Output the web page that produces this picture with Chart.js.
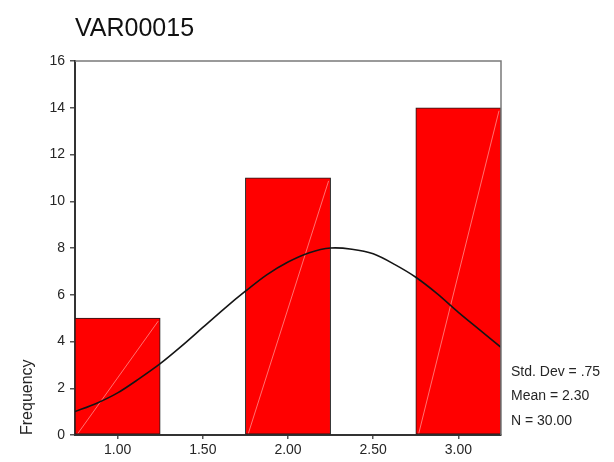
<!DOCTYPE html>
<html>
<head>
<meta charset="utf-8">
<script src="https://cdn.jsdelivr.net/npm/chart.js@4/dist/chart.umd.min.js"></script>
<style>
  html, body { margin: 0; padding: 0; background: #ffffff; }
  #wrap { width: 614px; height: 462px; }
</style>
</head>
<body>
<div id="wrap"><canvas id="hist" width="614" height="462"></canvas></div>
<script>
// Histogram of VAR00015 with fitted normal curve
const chartTitle = 'VAR00015';
const binMidpoints = [1.00, 1.50, 2.00, 2.50, 3.00];
const binCounts = [5, 0, 11, 0, 14];
const xTickValues = [1.00, 1.50, 2.00, 2.50, 3.00];
const yTickValues = [0, 2, 4, 6, 8, 10, 12, 14, 16];
const curveX = [0.75, 0.875, 1.00, 1.125, 1.25, 1.375, 1.50, 1.625, 1.75, 1.875, 2.00,
                2.125, 2.25, 2.375, 2.50, 2.625, 2.75, 2.875, 3.00, 3.125, 3.25];
const curveY = [1.0, 1.35, 1.8, 2.4, 3.05, 3.8, 4.6, 5.4, 6.15, 6.85, 7.4,
                7.8, 8.0, 7.95, 7.75, 7.3, 6.75, 6.05, 5.25, 4.5, 3.75];
const stdDev = 0.75;
const mean = 2.30;
const nCases = 30;

const FONT = "'Liberation Sans', Arial, Helvetica, sans-serif";
const TEXT = '#262626';
const BAR_DATASET = 1;

const statLines = [
  'Std. Dev = ' + stdDev.toFixed(2).replace(/^0/, ''),
  'Mean = ' + mean.toFixed(2),
  'N = ' + nCases.toFixed(2)
];

// Title, stat box, frame and the light diagonal streak in each bar
const decorations = {
  id: 'decorations',
  afterDatasetDraw(chart, args) {
    if (args.index !== BAR_DATASET) return;
    const ctx = chart.ctx;
    ctx.save();
    ctx.strokeStyle = 'rgba(255,150,150,0.75)';
    ctx.lineWidth = 1;
    args.meta.data.forEach((bar, i) => {
      if (!binCounts[i]) return;
      const p = bar.getProps(['x', 'y', 'base', 'width'], true);
      ctx.beginPath();
      ctx.moveTo(p.x - p.width / 2 + 3, p.base - 1);
      ctx.lineTo(p.x + p.width / 2 - 2, p.y + 3);
      ctx.stroke();
    });
    ctx.restore();
  },
  afterDraw(chart) {
    const ctx = chart.ctx;
    const a = chart.chartArea;
    ctx.save();
    // top and right frame
    ctx.strokeStyle = '#7a7a7a';
    ctx.lineWidth = 1.5;
    ctx.beginPath();
    ctx.moveTo(a.left, a.top);
    ctx.lineTo(a.right, a.top);
    ctx.lineTo(a.right, a.bottom);
    ctx.stroke();
    // title
    ctx.fillStyle = '#111111';
    ctx.font = '25px ' + FONT;
    ctx.textAlign = 'left';
    ctx.textBaseline = 'alphabetic';
    ctx.fillText(chartTitle, a.left, 36);
    // statistics
    ctx.fillStyle = TEXT;
    ctx.font = '14px ' + FONT;
    ctx.textBaseline = 'middle';
    statLines.forEach((s, i) => {
      ctx.fillText(s, a.right + 10, 372 + i * 24.5);
    });
    ctx.restore();
  }
};

new Chart(document.getElementById('hist'), {
  type: 'bar',
  data: {
    datasets: [
      {
        type: 'line',
        data: curveX.map((x, i) => ({ x: x, y: curveY[i] })),
        borderColor: '#151515',
        borderWidth: 1.6,
        pointRadius: 0,
        tension: 0.3,
        fill: false,
        order: 0
      },
      {
        type: 'bar',
        data: binMidpoints.map((x, i) => ({ x: x, y: binCounts[i] })),
        backgroundColor: '#ff0000',
        borderColor: '#1a1a1a',
        borderWidth: 1,
        borderSkipped: false,
        barPercentage: 1,
        categoryPercentage: 1,
        order: 1
      }
    ]
  },
  options: {
    responsive: false,
    animation: false,
    devicePixelRatio: 1,
    layout: { padding: { top: 61, right: 113, left: 0, bottom: 0 } },
    plugins: {
      legend: { display: false },
      tooltip: { enabled: false },
      title: { display: false }
    },
    scales: {
      x: {
        type: 'linear',
        min: 0.75,
        max: 3.25,
        offset: false,
        afterBuildTicks(scale) {
          scale.ticks = xTickValues.map(v => ({ value: v }));
        },
        afterFit(scale) { scale.height = 27; },
        ticks: {
          color: TEXT,
          font: { family: FONT, size: 14 },
          padding: 3,
          maxRotation: 0,
          callback: v => Number(v).toFixed(2)
        },
        grid: {
          display: true,
          offset: false,
          drawOnChartArea: false,
          drawTicks: true,
          tickLength: 4,
          color: '#555555',
          lineWidth: 1.5
        },
        border: { display: true, color: '#333333', width: 2 }
      },
      y: {
        type: 'linear',
        min: 0,
        max: 16,
        afterBuildTicks(scale) {
          scale.ticks = yTickValues.map(v => ({ value: v }));
        },
        afterFit(scale) { scale.width = 75; },
        ticks: {
          color: TEXT,
          font: { family: FONT, size: 14 },
          padding: 5
        },
        grid: {
          display: true,
          offset: false,
          drawOnChartArea: false,
          drawTicks: true,
          tickLength: 5,
          color: '#555555',
          lineWidth: 1.5
        },
        border: { display: true, color: '#333333', width: 2 },
        title: {
          display: true,
          text: 'Frequency',
          align: 'start',
          color: TEXT,
          font: { family: FONT, size: 16 },
          padding: { top: 18, bottom: 0 }
        }
      }
    }
  },
  plugins: [decorations]
});
</script>
</body>
</html>
